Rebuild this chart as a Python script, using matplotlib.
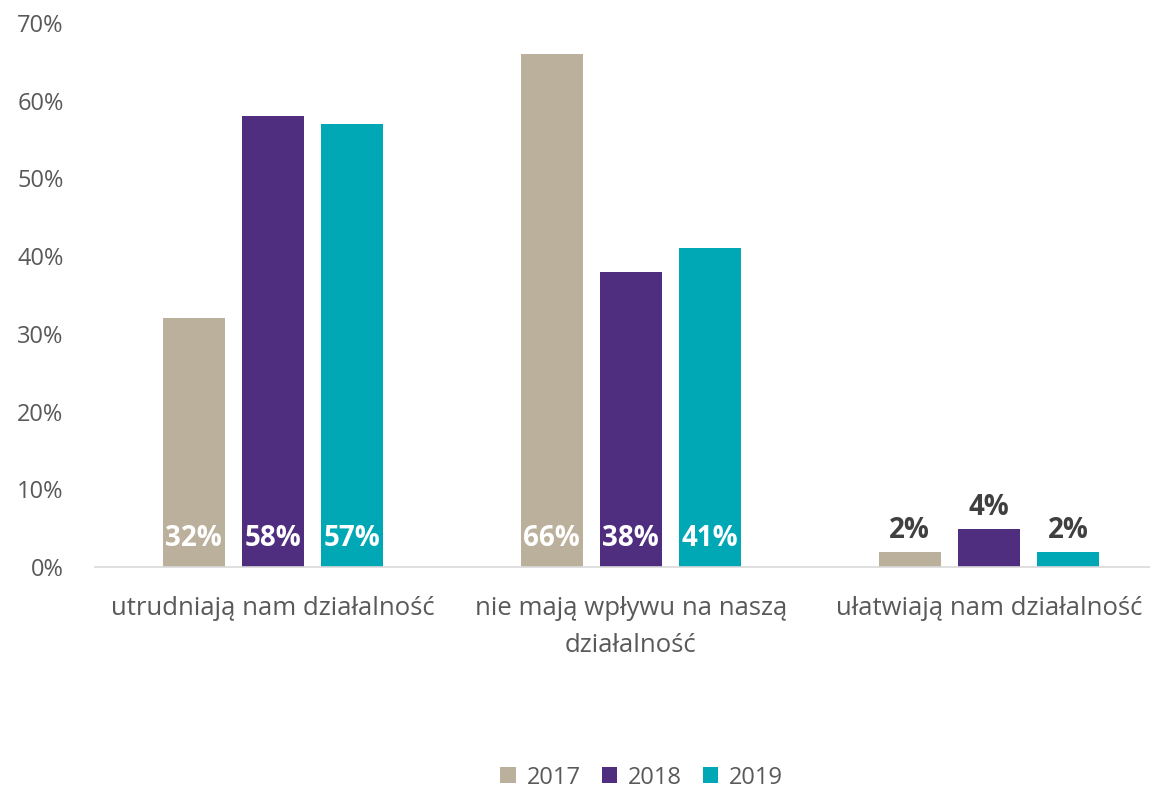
import matplotlib
matplotlib.use("Agg")
import matplotlib.pyplot as plt
import numpy as np
from matplotlib.ticker import FuncFormatter

categories = ["utrudniają nam działalność", "nie mają wpływu na naszą\ndziałalność", "ułatwiają nam działalność"]
years = ["2017", "2018", "2019"]
v2017 = [32, 66, 2]
v2018 = [58, 38, 4.9]
v2019 = [57, 41, 2]
lab2017 = ["32%", "66%", "2%"]
lab2018 = ["58%", "38%", "4%"]
lab2019 = ["57%", "41%", "2%"]
colors = ["#BBB09B", "#4F2D7F", "#00A7B5"]

plt.rcParams['font.family'] = ['Open Sans', 'DejaVu Sans']

fig = plt.figure(figsize=(11.5, 7.91), dpi=100)
ax = fig.add_axes([0.083, 0.283, 0.917, 0.688])

x = np.arange(len(categories))
width = 0.173
offset = 0.221
series = [v2017, v2018, v2019]
labels = [lab2017, lab2018, lab2019]
for i, (vals, labs, col, yr) in enumerate(zip(series, labels, colors, years)):
    pos = x + (i - 1) * offset
    ax.bar(pos, vals, width, color=col, label=yr)
    for p, v, t in zip(pos, vals, labs):
        if v >= 10:
            ax.text(p, 3.7, t, ha="center", va="center", color="white",
                    fontsize=20, fontweight="bold")
        else:
            ax.text(p, v + 0.9, t, ha="center", va="bottom", color="#404040",
                    fontsize=20, fontweight="bold")

ax.set_xlim(-0.495, 2.45)
ax.set_ylim(0, 70)
ax.set_yticks(range(0, 71, 10))
ax.yaxis.set_major_formatter(FuncFormatter(lambda v, p: f"{int(v)}%"))
ax.set_xticks(x)
ax.set_xticklabels(categories, fontsize=18.5, color="#595959", linespacing=1.6)
ax.tick_params(axis="y", labelsize=17, labelcolor="#595959", length=0, pad=23)
ax.tick_params(axis="x", length=0, pad=21)
for s in ["top", "right", "left"]:
    ax.spines[s].set_visible(False)
ax.spines["bottom"].set_color("#D9D9D9")
ax.spines["bottom"].set_linewidth(1.2)

fig.legend(loc="lower center", bbox_to_anchor=(0.558, -0.025), ncol=3, frameon=False,
           fontsize=17, labelcolor="#595959", handlelength=0.65, handleheight=0.65,
           handletextpad=0.45, columnspacing=0.9)

fig.savefig("out.png", dpi=100)
